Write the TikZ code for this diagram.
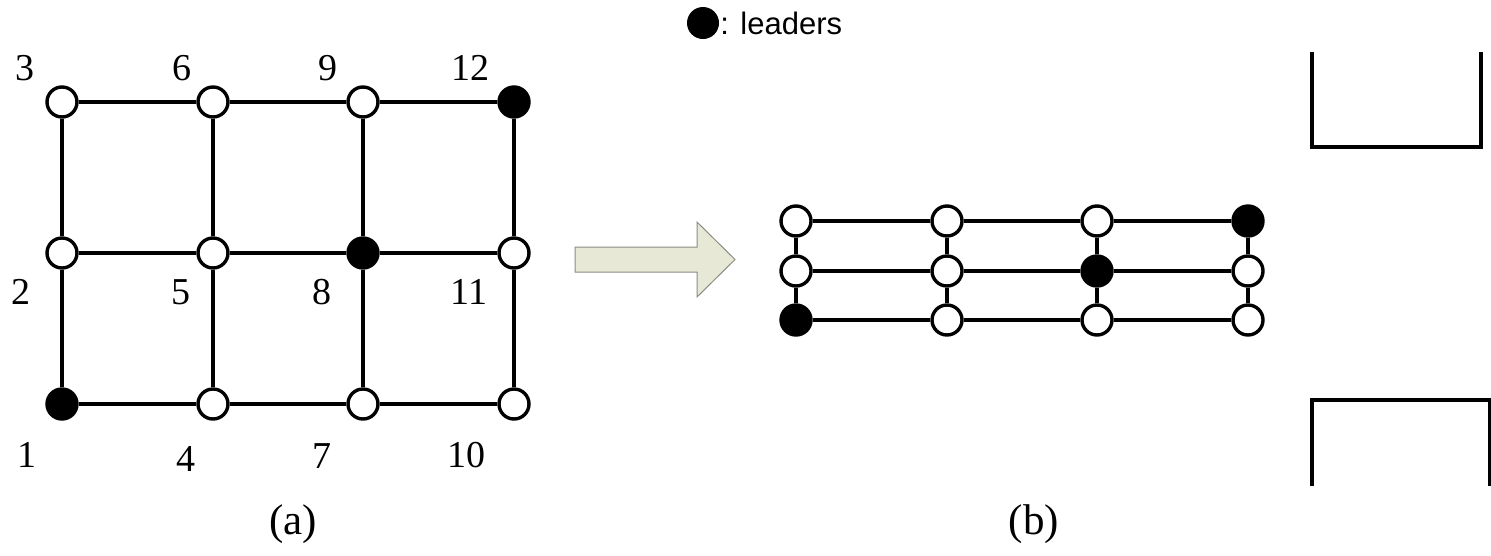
\documentclass[tikz,border=0pt]{standalone}
\usepackage{fontspec}
\setmainfont{Liberation Serif}
\newfontfamily\legendfont{Liberation Sans}
\begin{document}
\begin{tikzpicture}[x=1pt,y=-1pt,
  vtx/.style={circle,draw=black,line width=3.4pt,fill=white,minimum size=30pt,inner sep=0pt},
  lead/.style={vtx,fill=black},
  edge/.style={line width=3.8pt,black},
  lbl/.style={font=\fontsize{38}{44}\selectfont,inner sep=0pt},
  captxt/.style={font=\fontsize{43}{50}\selectfont,inner sep=0pt},
  bracket/.style={line width=3.6pt,black},
  bigarrow/.style={fill=olivefill,draw=arrowedge,line width=1pt,line join=miter}]
\definecolor{olivefill}{HTML}{E7E9D6}
\definecolor{arrowedge}{HTML}{8C8C84}
\useasboundingbox (0,0) rectangle (1491,555);

% ---- (a): 4 x 3 mesh ----
\foreach \c/\x in {1/62,2/213,3/363,4/514}{
  \foreach \r/\y in {1/404,2/253,3/102}{
    \coordinate (ap\c\r) at (\x,\y);
  }
}
\node[lead] (a1)  at (ap11) {};
\node[vtx]  (a2)  at (ap12) {};
\node[vtx]  (a3)  at (ap13) {};
\node[vtx]  (a4)  at (ap21) {};
\node[vtx]  (a5)  at (ap22) {};
\node[vtx]  (a6)  at (ap23) {};
\node[vtx]  (a7)  at (ap31) {};
\node[lead] (a8)  at (ap32) {};
\node[vtx]  (a9)  at (ap33) {};
\node[vtx]  (a10) at (ap41) {};
\node[vtx]  (a11) at (ap42) {};
\node[lead] (a12) at (ap43) {};

\foreach \u/\v in {a1/a2,a2/a3,a4/a5,a5/a6,a7/a8,a8/a9,a10/a11,a11/a12,
                   a1/a4,a4/a7,a7/a10,a2/a5,a5/a8,a8/a11,a3/a6,a6/a9,a9/a12}
  \draw[edge] (\u) -- (\v);

\node[lbl] (l3)  at (25,68)  {3};
\node[lbl] (l6)  at (182,68) {6};
\node[lbl] (l9)  at (328,68) {9};
\node[lbl] (l12) at (470,68) {12};
\node[lbl] (l2)  at (21,292)  {2};
\node[lbl] (l5)  at (181,292) {5};
\node[lbl] (l8)  at (322,292) {8};
\node[lbl] (l11) at (469,292) {11};
\node[lbl] (l1)  at (27,455)  {1};
\node[lbl] (l4)  at (186,459) {4};
\node[lbl] (l7)  at (322,456) {7};
\node[lbl] (l10) at (466,455) {10};
\node[captxt] (capa) at (293,524) {(a)};

% ---- block arrow ----
\draw[bigarrow] (575,247) -- (697,247) -- (697,222) -- (735,259.5)
  -- (697,297) -- (697,272) -- (575,272) -- cycle;

% ---- (b): compressed 4 x 3 mesh ----
\foreach \c/\x in {1/796,2/947,3/1097,4/1248}{
  \foreach \r/\y in {1/320,2/271,3/221}{
    \coordinate (bp\c\r) at (\x,\y);
  }
}
\node[lead] (b1)  at (bp11) {};
\node[vtx]  (b2)  at (bp12) {};
\node[vtx]  (b3)  at (bp13) {};
\node[vtx]  (b4)  at (bp21) {};
\node[vtx]  (b5)  at (bp22) {};
\node[vtx]  (b6)  at (bp23) {};
\node[vtx]  (b7)  at (bp31) {};
\node[lead] (b8)  at (bp32) {};
\node[vtx]  (b9)  at (bp33) {};
\node[vtx]  (b10) at (bp41) {};
\node[vtx]  (b11) at (bp42) {};
\node[lead] (b12) at (bp43) {};

\foreach \u/\v in {b1/b2,b2/b3,b4/b5,b5/b6,b7/b8,b8/b9,b10/b11,b11/b12,
                   b1/b4,b4/b7,b7/b10,b2/b5,b5/b8,b8/b11,b3/b6,b6/b9,b9/b12}
  \draw[edge] (\u) -- (\v);

\node[captxt] (capb) at (1034,524) {(b)};

% ---- open frames on the right ----
\coordinate (ft1) at (1312,52);
\coordinate (ft2) at (1312,147);
\coordinate (ft3) at (1481,147);
\coordinate (ft4) at (1481,52);
\draw[bracket] (ft1) -- (ft2) -- (ft3) -- (ft4);
\coordinate (fb1) at (1312,486);
\coordinate (fb2) at (1312,400);
\coordinate (fb3) at (1489.5,400);
\coordinate (fb4) at (1489.5,486);
\draw[bracket] (fb1) -- (fb2) -- (fb3) -- (fb4);

% ---- legend ----
\node[circle,fill=black,minimum size=32pt,inner sep=0pt] (legdot) at (703,23) {};
\node[anchor=west,inner sep=0pt,font=\legendfont\fontsize{31}{36}\selectfont] (legtxt)
  at ([xshift=1pt]legdot.east) {: leaders};
\end{tikzpicture}
\end{document}
